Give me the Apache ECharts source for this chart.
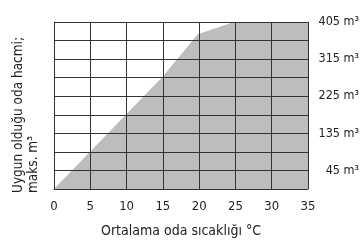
<!DOCTYPE html>
<html><head><meta charset="utf-8">
<script src="https://cdn.jsdelivr.net/npm/echarts@6/dist/echarts.min.js"></script>
<style>html,body{margin:0;padding:0;background:#fff}#c{width:362px;height:243px}</style>
</head><body><div id="c"></div>
<script>
const xTicks = [0, 5, 10, 15, 20, 25, 30, 35];
const yTickLabels = ['45 m³', '135 m³', '225 m³', '315 m³', '405 m³'];
const temps = [0, 5, 10, 15, 19.8, 24.8, 35];
const volumes = [0, 91, 182, 273, 375, 405, 405];
const xTitle = 'Ortalama oda sıcaklığı °C';
const yTitle = 'Uygun olduğu oda hacmi;\nmaks. m³';
const FONT = "'DejaVu Sans Condensed',sans-serif";
const chart = echarts.init(document.getElementById('c'));
chart.setOption({
  animation: false,
  grid: {left: 54, right: 52, top: 22, bottom: 52},
  xAxis: {
    type: 'value', min: 0, max: 35, interval: 5, z: 5,
    axisLine: {show: true, lineStyle: {color: '#333', width: 1}},
    axisTick: {show: false},
    splitLine: {show: true, lineStyle: {color: '#333', width: 1}},
    axisLabel: {color: '#222', fontFamily: FONT, fontSize: 13, margin: 11,
      formatter: v => xTicks.includes(v) ? String(v) : ''},
    name: xTitle, nameLocation: 'middle', nameGap: 35,
    nameTextStyle: {color: '#222', fontFamily: FONT, fontSize: 14}
  },
  yAxis: {
    type: 'value', min: 0, max: 405, interval: 45, position: 'right', z: 5,
    axisLine: {show: true, lineStyle: {color: '#333', width: 1}},
    axisTick: {show: false},
    splitLine: {show: true, lineStyle: {color: '#333', width: 1}},
    axisLabel: {color: '#222', fontFamily: FONT, fontSize: 12.5, align: 'right', margin: 51,
      formatter: v => { const i = (v / 45 - 1) / 2; return Number.isInteger(i) && yTickLabels[i] ? yTickLabels[i] : ''; }}
  },
  graphic: [{
    type: 'text', x: 11, y: 193, rotation: Math.PI / 2,
    style: {text: yTitle, fill: '#222', font: '13.5px ' + FONT, lineHeight: 15,
      textAlign: 'left', textVerticalAlign: 'top'}
  }],
  series: [{
    type: 'line', data: temps.map((t, i) => [t, volumes[i]]),
    symbol: 'none', lineStyle: {width: 0}, z: 1,
    areaStyle: {color: '#bdbdbd', opacity: 1}
  }]
});
</script></body></html>
